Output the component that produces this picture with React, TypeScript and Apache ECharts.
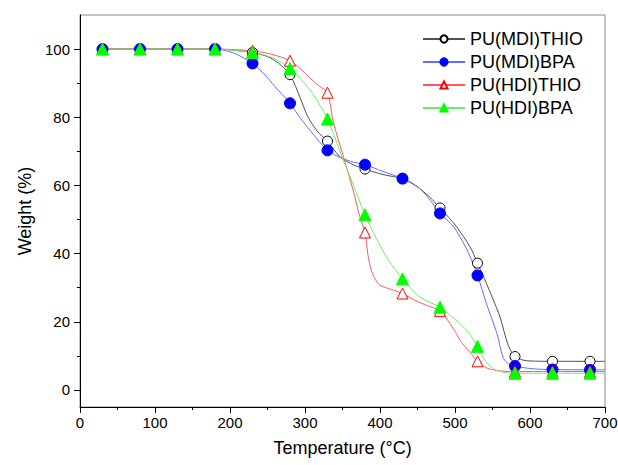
import React, { useEffect, useRef } from "react";
import * as echarts from "echarts";

const FONT = "Liberation Sans, Arial, sans-serif";

const seriesNames = ["PU(MDI)THIO", "PU(MDI)BPA", "PU(HDI)THIO", "PU(HDI)BPA"];
const markerTemps = [30, 80, 130, 180, 230, 280, 330, 380, 430, 480, 530, 580, 630, 680];
const xTickValues = [0, 100, 200, 300, 400, 500, 600, 700];
const yTickValues = [0, 20, 40, 60, 80, 100];
const yMinorTickValues = [10, 30, 50, 70, 90];

// [temperature °C, weight %] (markers every 50 °C plus curve points)
const mdiThio: number[][] = [
  [30, 100], [80, 100], [130, 100], [180, 100], [200, 99.8], [215, 99.4], [230, 99], [250, 97.8],
  [265, 95.8], [280, 92.5], [293, 86], [303, 80.5], [311, 77.5], [320, 75], [330, 73], [347, 68.3],
  [365, 66], [380, 64.8], [404, 63.2], [430, 62], [444, 60.5], [458, 58.2], [470, 55.8], [480, 53.4],
  [490, 51], [502, 47.9], [520, 42], [530, 37.2], [542, 31.2], [550, 27], [560, 21.4], [571, 13.1],
  [580, 9.8], [590, 8.8], [600, 8.5], [630, 8.4], [680, 8.4], [700, 8.4],
];
const mdiBpa: number[][] = [
  [30, 100], [80, 100], [130, 100], [180, 100], [200, 99.2], [215, 97.8], [230, 95.8], [245, 92.8],
  [260, 89], [280, 84.1], [293, 80], [311, 75], [330, 70.3], [347, 68.2], [365, 66.8], [380, 66.1],
  [404, 64.1], [430, 62], [449, 59.7], [458, 58], [470, 54.8], [480, 51.8], [498, 47.9], [516, 41.1],
  [530, 33.6], [542, 25.3], [556, 16.5], [564, 9.6], [571, 7.7], [580, 7], [604, 6.2], [630, 6],
  [680, 5.9], [700, 5.9],
];
const hdiThio: number[][] = [
  [30, 100], [80, 100], [130, 100], [180, 100], [230, 99.5], [255, 98.5], [280, 96.6], [295, 94],
  [308, 91.2], [320, 89], [330, 87.2], [338, 78.4], [351, 68.6], [364, 58.7], [373, 50.9], [380, 46.2],
  [384, 39.5], [389, 34.7], [395, 32], [400, 30.7], [415, 29.5], [430, 28.3], [444, 26.6], [460, 25],
  [480, 23.2], [490, 20.5], [502, 16.5], [507, 14.5], [520, 11], [530, 8.4], [542, 6.5], [556, 5.7],
  [580, 5.4], [630, 5.4], [680, 5.4], [700, 5.4],
];
const hdiBpa: number[][] = [
  [30, 100], [80, 100], [130, 100], [180, 100], [230, 99], [250, 98], [265, 96.5], [280, 94.3],
  [295, 91], [310, 87], [330, 79.5], [349, 68.6], [367, 58.7], [380, 51.4], [395, 44.5], [411, 38.2],
  [430, 32.6], [453, 27.3], [480, 24.3], [490, 22.5], [505, 19.8], [520, 16.3], [530, 12.8],
  [542, 8.1], [556, 5.7], [580, 4.9], [630, 4.9], [680, 4.9], [700, 4.9],
];

const curves = [mdiThio, mdiBpa, hdiThio, hdiBpa];
const lineColors = ["#505050", "#6a6aff", "#ff5a5a", "#6aee6a"];
const markerFills = ["#ffffff", "#0000ff", "#ffffff", "#00ff00"];
const markerBorders = ["#000000", "#0000ff", "#ff0000", "#00ff00"];
const symbols = ["circle", "circle", "triangle", "triangle"];
const symbolSizes = [10, 11, 11, 12];

export default function App() {
  const ref = useRef<HTMLDivElement>(null);
  useEffect(() => {
    if (!ref.current) return;
    const chart = echarts.init(ref.current, undefined, { renderer: "svg" });
    const series = curves.map((curve, i) => ({
      name: seriesNames[i],
      type: "line",
      xAxisIndex: 0,
      yAxisIndex: 0,
      smooth: 0.3,
      showAllSymbol: true,
      symbol: symbols[i],
      symbolSize: symbolSizes[i],
      lineStyle: { color: lineColors[i], width: 1 },
      itemStyle: { color: markerFills[i], borderColor: markerBorders[i], borderWidth: 1 },
      emphasis: { disabled: true },
      data: curve.map(([t, w]) =>
        markerTemps.includes(t) ? [t, w] : { value: [t, w], symbol: "none" }
      ),
    }));
    chart.setOption({
      animation: false,
      backgroundColor: "#ffffff",
      textStyle: { fontFamily: FONT },
      grid: {
        left: 80,
        right: 13,
        top: 15,
        bottom: 58,
        show: true,
        borderColor: "#8a8a8a",
        borderWidth: 1,
        outerBoundsMode: "none",
      },
      legend: {
        orient: "vertical",
        left: 417,
        top: 25,
        itemWidth: 42,
        itemHeight: 9,
        itemGap: 5,
        textStyle: { fontSize: 18, color: "#000", fontFamily: FONT },
        data: seriesNames,
      },
      xAxis: {
        type: "value",
        min: 0,
        max: 700,
        interval: 100,
        name: "Temperature (°C)",
        nameLocation: "middle",
        nameGap: 32,
        nameTextStyle: { fontSize: 18, color: "#000", fontFamily: FONT },
        axisLine: { show: true, onZero: false, lineStyle: { color: "#000", width: 1 } },
        axisTick: { show: true, inside: false, length: 6, lineStyle: { color: "#000" } },
        minorTick: { show: true, splitNumber: 2, length: 3, lineStyle: { color: "#000" } },
        axisLabel: {
          fontSize: 15,
          color: "#000",
          margin: 8,
          fontFamily: FONT,
          customValues: xTickValues,
        },
        splitLine: { show: false },
      },
      yAxis: [
        {
          type: "value",
          min: -5,
          max: 110,
          name: "Weight (%)",
          nameLocation: "middle",
          nameGap: 42,
          nameTextStyle: { fontSize: 18, color: "#000", fontFamily: FONT },
          axisLine: { show: true, onZero: false, lineStyle: { color: "#000", width: 1 } },
          axisTick: {
            show: true,
            inside: false,
            length: 6,
            lineStyle: { color: "#000" },
            customValues: yTickValues,
          },
          axisLabel: {
            fontSize: 15,
            color: "#000",
            margin: 10,
            fontFamily: FONT,
            customValues: yTickValues,
          },
          splitLine: { show: false },
        },
        {
          type: "value",
          min: -5,
          max: 110,
          position: "left",
          axisLine: { show: false },
          axisTick: {
            show: true,
            inside: false,
            length: 3,
            lineStyle: { color: "#000" },
            customValues: yMinorTickValues,
          },
          axisLabel: { show: false },
          splitLine: { show: false },
        },
      ],
      series,
    });
    return () => chart.dispose();
  }, []);
  return (
    <div
      ref={ref}
      style={{ position: "fixed", left: 0, top: 0, width: 618, height: 465, background: "#fff" }}
    />
  );
}
